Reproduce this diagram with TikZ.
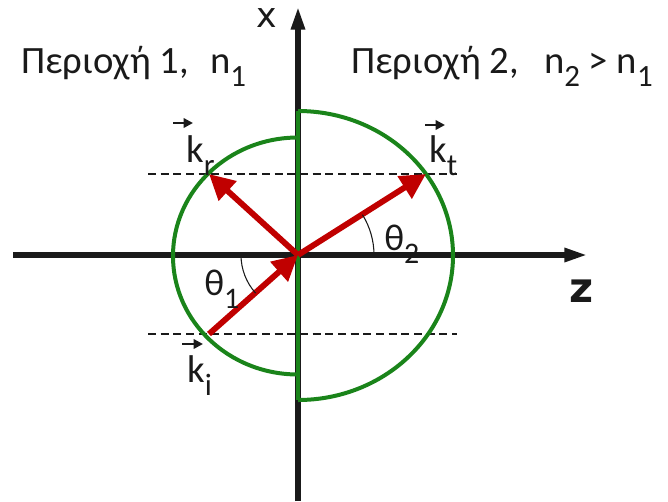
\documentclass[tikz,border=0pt]{standalone}
\usepackage{fontspec}
\setmainfont{Carlito}
\newfontfamily\axfont{DejaVu Sans}
\usepackage{graphicx}
\usetikzlibrary{arrows.meta}
\definecolor{cred}{HTML}{C00000}
\definecolor{cgreen}{HTML}{1A841A}
\definecolor{cink}{HTML}{1A1A1A}
\tikzset{
  axis/.style={cink,line width=3.8pt,-{Triangle[length=17pt,width=10pt]}},
  lvl/.style={cink,line width=0.9pt,dash pattern=on 6pt off 3.5pt},
  front/.style={cgreen,line width=3pt},
  wave/.style={cred,line width=4.4pt,-{Triangle[length=19pt,width=19pt]}},
  ang/.style={cink,line width=0.8pt},
  vecarr/.style={cink,line width=1.8pt,-{Triangle[length=7pt,width=7pt]}},
  lbl/.style={inner sep=0pt,text=cink}
}
\newcommand{\idx}[1]{\raisebox{-0.36em}{\scalebox{0.8}{#1}}}

\begin{document}
\begin{tikzpicture}[x=0.75pt,y=-0.75pt]
\useasboundingbox (0,0) rectangle (668,501);
\coordinate (O) at (298,255);
\coordinate (zl) at (13,255);
\coordinate (zr) at (587,255);
\coordinate (xb) at (298,501);
\coordinate (xt) at (298,7);
\coordinate (kre) at (209,174);
\coordinate (kte) at (426,174);
\coordinate (kis) at (209,334);
\coordinate (up1) at (148,174);
\coordinate (up2) at (457,174);
\coordinate (lo1) at (148,334);
\coordinate (lo2) at (457,334);
\coordinate (ftop) at (298,111);
\coordinate (fbot) at (298,400);
% axes
\draw[axis] (zl) -- (zr);
\draw[axis] (xb) -- (xt);
% levels of k_x
\draw[lvl] (up1) -- (up2);
\draw[lvl] (lo1) -- (lo2);
% wave-vector surfaces
\draw[front] (ftop) -- (fbot);
\draw[front] (298,137.5) arc[start angle=-90,end angle=-270,x radius=125,y radius=118.5];
\draw[front] (ftop) arc[start angle=-90,end angle=90,x radius=155,y radius=144.5];
% the three waves
\draw[wave] (kis) -- (O);
\draw[wave] (O) -- (kre);
\draw[wave] (O) -- (kte);
\draw[ang] (O) ++(180:57) arc[start angle=180,end angle=138,radius=57];
\draw[ang] (O) ++(0:76) arc[start angle=0,end angle=-32,radius=76];
% labels
\node[lbl,anchor=base west,font=\fontsize{29}{34}\selectfont] (reg1) at (21,73) {Περιοχή 1,\hspace{0.55em}n\idx{1}};
\node[lbl,anchor=base west,font=\fontsize{29}{34}\selectfont] (reg2) at (351,73) {Περιοχή 2,\hspace{0.65em}n\idx{2} > n\idx{1}};
\node[lbl,anchor=base,font=\axfont\fontsize{26}{30}\selectfont] (xlab) at (267,27) {x};
\node[lbl,anchor=base,font=\axfont\bfseries\fontsize{31}{36}\selectfont] (zlab) at (582,302) {z};
\node[lbl,anchor=base west,font=\fontsize{28}{32}\selectfont] (th1) at (204,295) {θ\idx{1}};
\node[lbl,anchor=base west,font=\fontsize{28}{32}\selectfont] (th2) at (384,250) {θ\idx{2}};
\node[lbl,anchor=base west,font=\fontsize{29}{32}\selectfont] (kr) at (186,162) {k\idx{r}};
\node[lbl,anchor=base west,font=\fontsize{29}{32}\selectfont] (kt) at (429,162) {k\idx{t}};
\node[lbl,anchor=base west,font=\fontsize{29}{32}\selectfont] (ki) at (187,382) {k\idx{i}};
\draw[vecarr] ([shift={(-13,-39)}]kr.base west) -- ++(20,0);
\draw[vecarr] ([shift={(-4,-37)}]kt.base west) -- ++(20,0);
\draw[vecarr] ([shift={(-5,-38)}]ki.base west) -- ++(21,0);
\end{tikzpicture}
\end{document}
